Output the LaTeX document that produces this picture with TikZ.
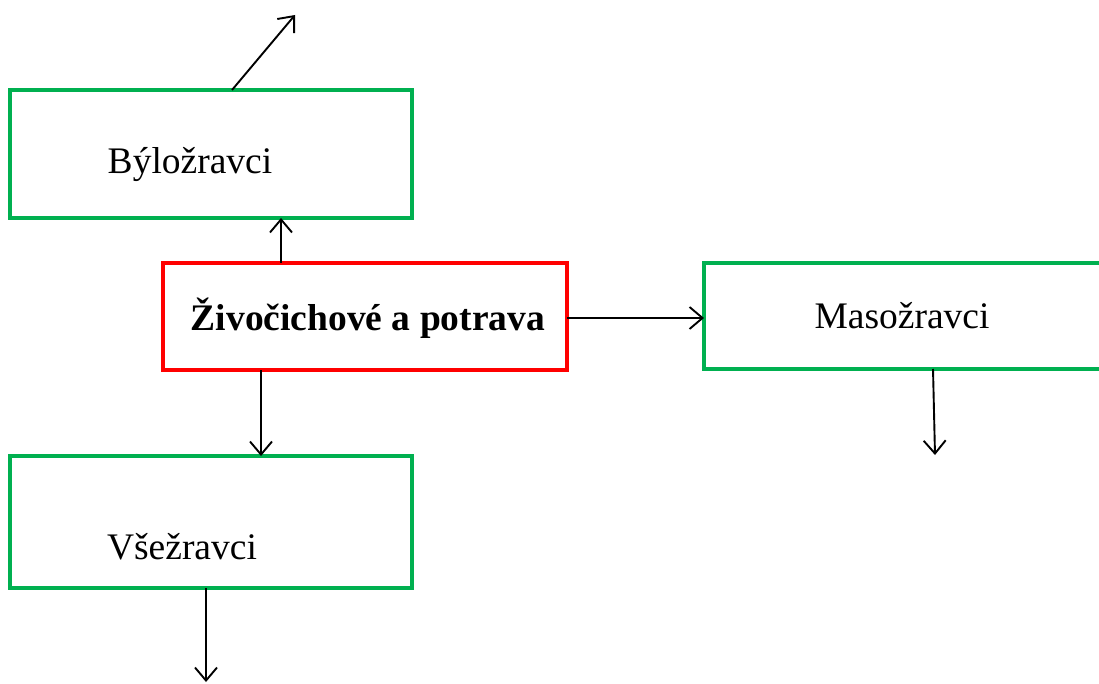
\documentclass[tikz,border=0pt]{standalone}
\usepackage{fontspec}
\setmainfont{Liberation Serif}
\usetikzlibrary{arrows.meta}
\definecolor{boxgreen}{RGB}{0,176,80}
\definecolor{boxred}{RGB}{255,0,0}
\tikzset{
  greenbox/.style={draw=boxgreen, line width=4.2pt, rectangle, inner sep=0pt, outer sep=0pt},
  redbox/.style={draw=boxred, line width=4.2pt, rectangle, inner sep=0pt, outer sep=0pt},
  lbl/.style={font=\fontsize{37.5}{45}\selectfont, inner sep=0pt},
  arr/.style={line width=1.9pt, -{Straight Barb[length=13pt,width=22pt,line width=1.9pt]}}
}
\begin{document}
\begin{tikzpicture}[x=1pt,y=-1pt]
\useasboundingbox (0,0) rectangle (1099,684);
\clip (0,0) rectangle (1099,684);
% boxes
\node[greenbox, minimum width=402pt, minimum height=128pt] (byl) at (211,154) {};
\node[redbox, minimum width=404pt, minimum height=107pt] (ziv) at (365,316.5) {};
\node[greenbox, minimum width=416pt, minimum height=106pt] (maso) at (912,316) {};
\node[greenbox, minimum width=402pt, minimum height=132pt] (vse) at (211,522) {};
% labels
\node[lbl] (tbyl) at (190,165) {Býložravci};
\node[lbl, font=\fontsize{37.5}{45}\selectfont\bfseries] (tziv) at (368,318) {Živočichové a potrava};
\node[lbl] (tmaso) at (902,316) {Masožravci};
\node[lbl] (tvse) at (182,547) {Všežravci};
% free ends
\coordinate (e1) at (295,15);
\coordinate (e2) at (935,455);
\coordinate (e3) at (206,682);
% connectors
\draw[arr] (byl.north -| 232,0) -- (e1);
\draw[arr] (ziv.north -| 281,0) -- (byl.south -| 281,0);
\draw[arr] (ziv.east |- 0,318) -- (maso.west |- 0,318);
\draw[arr] (ziv.south -| 261,0) -- (vse.north -| 261,0);
\draw[arr] (maso.south -| 933,0) -- (e2);
\draw[arr] (vse.south -| 206,0) -- (e3);
\end{tikzpicture}
\end{document}
